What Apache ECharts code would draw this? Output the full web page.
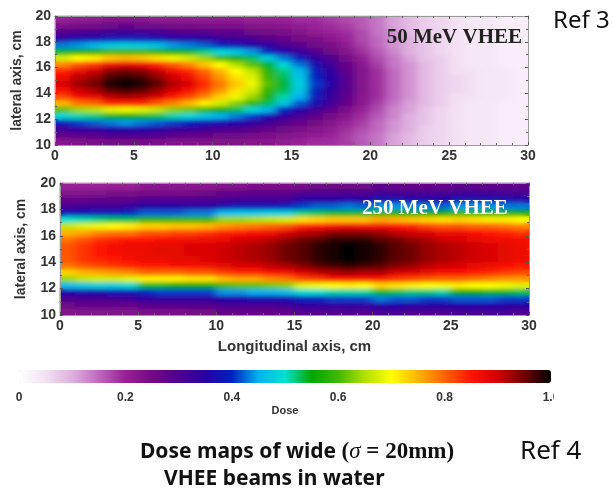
<!DOCTYPE html>
<html>
<head>
<meta charset="utf-8">
<script src="https://cdn.jsdelivr.net/npm/echarts@6.0.0/dist/echarts.min.js"></script>
<style>
  html, body { margin: 0; padding: 0; background: #fff; }
  #wrap { position: relative; width: 613px; height: 492px; }
  .layer { position: absolute; left: 0; top: 0; width: 613px; height: 492px; }
  #soft { filter: url(#smooth); clip-path: path('M55 16H528V145H55Z M60 183H529V315H60Z'); }
</style>
</head>
<body>
<div id="wrap">
  <div id="base" class="layer"></div>
  <div id="soft" class="layer"></div>
  <div id="main" class="layer"></div>
</div>
<svg width="0" height="0" style="position:absolute">
  <filter id="smooth" x="-5%" y="-5%" width="110%" height="110%">
    <feGaussianBlur stdDeviation="4.5 2"/>
  </filter>
</svg>
<script>
// cell centres, cm
var longitudinal = [0.5, 1.5, 2.5, 3.5, 4.5, 5.5, 6.5, 7.5, 8.5, 9.5, 10.5, 11.5, 12.5, 13.5, 14.5,
  15.5, 16.5, 17.5, 18.5, 19.5, 20.5, 21.5, 22.5, 23.5, 24.5, 25.5, 26.5, 27.5, 28.5, 29.5];
var lateral = [10.25, 10.75, 11.25, 11.75, 12.25, 12.75, 13.25, 13.75, 14.25, 14.75,
  15.25, 15.75, 16.25, 16.75, 17.25, 17.75, 18.25, 18.75, 19.25, 19.75];

// 50 MeV: one line per longitudinal cell, values go from lateral 10 to 20
var dose50 = [
  [.22,.27,.32,.39,.49,.61,.75,.82,.86,.89,.87,.84,.78,.67,.54,.43,.35,.29,.24,.20],
  [.23,.28,.34,.41,.51,.64,.79,.86,.90,.93,.91,.88,.81,.70,.56,.44,.37,.30,.25,.21],
  [.24,.28,.34,.42,.52,.65,.80,.88,.92,.95,.93,.90,.83,.71,.57,.45,.37,.31,.25,.21],
  [.25,.30,.36,.43,.54,.68,.84,.91,.96,.99,.97,.94,.87,.74,.60,.47,.39,.32,.26,.22],
  [.25,.30,.36,.44,.55,.69,.84,.92,.97,1.0,.98,.95,.88,.75,.60,.48,.39,.32,.27,.22],
  [.25,.30,.36,.43,.54,.68,.84,.91,.96,.99,.97,.94,.87,.74,.60,.47,.39,.32,.26,.22],
  [.24,.29,.35,.42,.53,.66,.81,.89,.93,.96,.94,.91,.84,.72,.58,.46,.38,.31,.26,.21],
  [.23,.28,.33,.41,.51,.63,.78,.85,.89,.92,.90,.87,.81,.69,.56,.44,.36,.30,.25,.21],
  [.23,.27,.33,.40,.49,.62,.75,.82,.86,.89,.87,.84,.78,.67,.54,.43,.36,.29,.25,.21],
  [.23,.27,.32,.38,.47,.59,.71,.78,.82,.84,.82,.80,.74,.64,.52,.42,.35,.29,.24,.21],
  [.23,.26,.31,.37,.45,.56,.67,.73,.77,.79,.77,.75,.70,.60,.49,.40,.33,.28,.24,.21],
  [.23,.26,.30,.36,.43,.53,.63,.69,.72,.74,.72,.70,.65,.57,.47,.38,.32,.28,.24,.21],
  [.22,.25,.29,.34,.41,.49,.59,.64,.67,.69,.68,.66,.61,.53,.44,.36,.31,.26,.23,.20],
  [.22,.24,.27,.32,.37,.45,.53,.57,.59,.61,.60,.58,.54,.48,.40,.34,.29,.25,.23,.20],
  [.21,.23,.26,.29,.34,.40,.47,.51,.53,.54,.53,.52,.49,.43,.36,.31,.27,.24,.22,.20],
  [.20,.22,.24,.27,.31,.36,.42,.45,.47,.48,.47,.46,.43,.39,.33,.29,.25,.23,.21,.19],
  [.19,.21,.23,.25,.28,.32,.37,.39,.40,.41,.40,.39,.37,.34,.30,.26,.24,.21,.20,.19],
  [.19,.20,.21,.23,.25,.28,.32,.33,.34,.35,.35,.34,.32,.30,.26,.24,.22,.20,.19,.18],
  [.18,.18,.19,.20,.22,.24,.27,.28,.29,.29,.29,.28,.27,.25,.23,.21,.20,.19,.18,.17],
  [.16,.16,.17,.18,.19,.20,.22,.22,.23,.23,.23,.23,.22,.21,.19,.18,.17,.17,.16,.16],
  [.14,.14,.15,.15,.16,.17,.18,.19,.19,.19,.19,.19,.18,.17,.16,.15,.15,.14,.14,.14],
  [.11,.11,.12,.12,.13,.13,.14,.15,.15,.15,.15,.15,.14,.14,.13,.12,.12,.12,.11,.11],
  [.09,.09,.10,.10,.10,.11,.11,.12,.12,.12,.12,.12,.12,.11,.10,.10,.10,.09,.09,.09],
  [.07,.07,.07,.08,.08,.08,.09,.09,.09,.09,.09,.09,.09,.08,.08,.08,.07,.07,.07,.07],
  [.06,.06,.06,.06,.06,.06,.07,.07,.07,.07,.07,.07,.07,.07,.06,.06,.06,.06,.06,.06],
  [.05,.05,.05,.05,.05,.05,.05,.05,.06,.06,.06,.05,.05,.05,.05,.05,.05,.05,.05,.05],
  [.04,.04,.04,.04,.04,.04,.04,.05,.05,.05,.05,.05,.04,.04,.04,.04,.04,.04,.04,.04],
  [.04,.04,.04,.04,.04,.04,.04,.04,.04,.04,.04,.04,.04,.04,.04,.04,.04,.04,.04,.04],
  [.03,.03,.03,.03,.03,.03,.03,.04,.04,.04,.04,.04,.03,.03,.03,.03,.03,.03,.03,.03],
  [.03,.03,.03,.03,.03,.03,.03,.03,.03,.03,.03,.03,.03,.03,.03,.03,.03,.03,.03,.03]
];

// 250 MeV
var dose250 = [
  [.23,.26,.30,.36,.46,.64,.73,.79,.81,.81,.81,.79,.75,.66,.50,.38,.31,.27,.23,.20],
  [.23,.27,.31,.37,.47,.66,.75,.81,.83,.83,.83,.81,.76,.68,.51,.38,.32,.27,.23,.20],
  [.23,.27,.31,.37,.48,.67,.76,.82,.84,.85,.85,.83,.78,.69,.52,.39,.32,.28,.23,.20],
  [.23,.27,.31,.38,.48,.67,.77,.83,.85,.86,.86,.84,.79,.70,.53,.39,.32,.28,.24,.20],
  [.23,.27,.32,.38,.49,.68,.78,.84,.86,.87,.87,.85,.79,.71,.53,.40,.33,.28,.24,.20],
  [.24,.29,.34,.40,.54,.71,.80,.85,.87,.87,.87,.85,.81,.73,.58,.42,.35,.30,.25,.22],
  [.24,.29,.34,.41,.54,.71,.80,.85,.87,.88,.88,.86,.81,.73,.58,.42,.35,.30,.25,.22],
  [.24,.29,.34,.41,.55,.71,.80,.86,.88,.88,.88,.86,.82,.74,.59,.42,.35,.30,.25,.22],
  [.25,.29,.34,.41,.55,.72,.81,.86,.88,.89,.89,.87,.82,.74,.59,.43,.35,.30,.25,.22],
  [.25,.29,.34,.41,.55,.72,.81,.87,.89,.89,.89,.87,.83,.75,.59,.43,.35,.30,.26,.22],
  [.27,.31,.36,.44,.60,.75,.83,.88,.90,.90,.90,.88,.84,.77,.64,.46,.37,.31,.27,.23],
  [.27,.31,.36,.44,.61,.76,.84,.89,.91,.91,.91,.89,.85,.78,.64,.47,.38,.32,.27,.23],
  [.27,.31,.37,.45,.61,.76,.84,.89,.92,.92,.92,.90,.86,.79,.65,.47,.38,.32,.28,.24],
  [.27,.31,.37,.45,.62,.78,.86,.91,.93,.93,.93,.91,.87,.80,.66,.48,.38,.32,.28,.24],
  [.27,.32,.37,.46,.63,.79,.87,.92,.95,.95,.95,.93,.89,.81,.67,.48,.39,.32,.28,.24],
  [.29,.34,.40,.50,.68,.82,.89,.94,.96,.96,.96,.95,.91,.84,.72,.52,.41,.35,.30,.25],
  [.29,.34,.40,.50,.69,.83,.91,.96,.98,.98,.98,.96,.92,.85,.73,.53,.42,.35,.30,.26],
  [.29,.34,.41,.51,.70,.85,.92,.97,.99,.99,.99,.98,.94,.86,.74,.54,.42,.35,.30,.26],
  [.30,.34,.41,.51,.71,.85,.93,.98,1.0,1.0,1.0,.98,.94,.87,.74,.54,.43,.36,.30,.26],
  [.29,.34,.41,.51,.70,.85,.92,.97,.99,.99,.99,.98,.94,.86,.74,.54,.42,.35,.30,.26],
  [.31,.36,.43,.54,.73,.85,.92,.96,.98,.98,.98,.96,.93,.86,.76,.58,.44,.37,.32,.28],
  [.31,.36,.42,.53,.72,.83,.90,.94,.96,.96,.96,.95,.91,.85,.75,.57,.44,.37,.31,.27],
  [.30,.35,.42,.52,.71,.82,.89,.93,.95,.95,.95,.93,.90,.84,.74,.56,.43,.36,.31,.27],
  [.30,.35,.41,.52,.70,.81,.88,.91,.93,.93,.93,.92,.89,.82,.73,.56,.43,.36,.31,.27],
  [.30,.35,.41,.51,.69,.80,.86,.90,.92,.92,.92,.90,.87,.81,.72,.55,.42,.36,.31,.27],
  [.31,.36,.42,.55,.71,.80,.86,.89,.91,.91,.91,.89,.87,.81,.73,.59,.44,.37,.32,.28],
  [.31,.36,.42,.55,.70,.79,.85,.88,.90,.90,.90,.88,.86,.80,.72,.58,.44,.37,.32,.28],
  [.31,.36,.42,.54,.70,.78,.84,.87,.89,.89,.89,.87,.85,.80,.71,.57,.44,.37,.32,.28],
  [.31,.35,.41,.54,.69,.77,.83,.86,.88,.88,.88,.87,.84,.79,.71,.57,.43,.37,.31,.28],
  [.30,.35,.41,.53,.68,.77,.82,.85,.87,.87,.87,.86,.83,.78,.70,.56,.43,.36,.31,.28]
];

// colour scale, 0 to 1 in steps of 0.05
var doseColors = ['#ffffff', '#f3e1f3', '#dfb0df', '#bf68bf', '#972096', '#740a84', '#500090',
  '#2800a4', '#0020c0', '#00b4f0', '#00e0d0', '#00a800', '#40b800', '#b0e000', '#ffff00',
  '#ffb400', '#ff6400', '#ff1400', '#d20000', '#700000', '#000000'];

var plotGrids = [
  {left: 55, top: 16, width: 473, height: 129},
  {left: 60, top: 183, width: 469, height: 132}
];

function toCells(cols) {
  var out = [];
  for (var i = 0; i < cols.length; i++) {
    for (var j = 0; j < cols[i].length; j++) {
      out.push([i, j, cols[i][j]]);
    }
  }
  return out;
}

function catAxis(grid, data) {
  return {type: 'category', gridIndex: grid, data: data.map(String), show: false};
}

// the two dose maps only (drawn twice: sharp underneath, softened on top)
function heatOption() {
  return {
    animation: false,
    grid: plotGrids,
    xAxis: [catAxis(0, longitudinal), catAxis(1, longitudinal)],
    yAxis: [catAxis(0, lateral), catAxis(1, lateral)],
    visualMap: {type: 'continuous', show: false, min: 0, max: 1, inRange: {color: doseColors}},
    series: [
      {type: 'heatmap', xAxisIndex: 0, yAxisIndex: 0, data: toCells(dose50), progressive: 0, emphasis: {disabled: true}},
      {type: 'heatmap', xAxisIndex: 1, yAxisIndex: 1, data: toCells(dose250), progressive: 0, emphasis: {disabled: true}}
    ]
  };
}

echarts.init(document.getElementById('base')).setOption(heatOption());
echarts.init(document.getElementById('soft')).setOption(heatOption());

var fontFamily = '"Liberation Sans", Arial, sans-serif';
var tickFont = {fontFamily: fontFamily, fontWeight: 'bold', fontSize: 14, color: '#333'};

function valAxis(grid, pos, min, max, step, minor, showLabel, extra) {
  var a = {
    type: 'value', gridIndex: grid, position: pos, min: min, max: max, interval: step,
    axisLine: {show: true, onZero: false, lineStyle: {color: '#999', width: 1}},
    axisTick: {show: true, inside: true, length: 3, lineStyle: {color: '#555'}},
    minorTick: {show: true, splitNumber: minor, length: 2, lineStyle: {color: '#666'}},
    splitLine: {show: false},
    axisLabel: showLabel ? Object.assign({show: true, margin: 4}, tickFont) : {show: false}
  };
  return Object.assign(a, extra || {});
}

var yName = {name: 'lateral axis, cm', nameLocation: 'middle', nameGap: 29,
  nameTextStyle: {fontFamily: fontFamily, fontWeight: 'bold', fontSize: 14, color: '#333'}};

var chart = echarts.init(document.getElementById('main'));

chart.setOption({
  animation: false,
  grid: plotGrids.concat([{left: 19, top: 370, width: 532, height: 13}]),
  xAxis: [
    valAxis(0, 'bottom', 0, 30, 5, 5, true),
    valAxis(0, 'top', 0, 30, 5, 5, false),
    valAxis(1, 'bottom', 0, 30, 5, 5, true, {
      name: 'Longitudinal axis, cm', nameLocation: 'middle', nameGap: 24,
      nameTextStyle: {fontFamily: fontFamily, fontWeight: 'bold', fontSize: 15, color: '#333'}
    }),
    valAxis(1, 'top', 0, 30, 5, 5, false),
    {
      type: 'value', gridIndex: 2, min: 0, max: 1, interval: 0.2,
      axisLine: {show: false}, axisTick: {show: false}, splitLine: {show: false},
      axisLabel: {margin: 9, fontSize: 12, fontFamily: fontFamily, fontWeight: 'bold', color: '#333',
        formatter: function (v) { return v === 0 ? '0' : v.toFixed(1); }},
      name: 'Dose', nameLocation: 'middle', nameGap: 22,
      nameTextStyle: {fontFamily: fontFamily, fontWeight: 'bold', fontSize: 11, color: '#333'}
    }
  ],
  yAxis: [
    valAxis(0, 'left', 10, 20, 2, 2, true, yName),
    valAxis(0, 'right', 10, 20, 2, 2, false),
    valAxis(1, 'left', 10, 20, 2, 2, true, Object.assign({}, yName, {nameGap: 32})),
    valAxis(1, 'right', 10, 20, 2, 2, false),
    {type: 'value', gridIndex: 2, min: 0, max: 1, show: false}
  ],
  visualMap: {
    type: 'continuous', min: 0, max: 1, orient: 'horizontal',
    left: 19, top: 370, itemWidth: 13, itemHeight: 532, padding: 0,
    calculable: false, hoverLink: false,
    inRange: {color: doseColors}
  },
  series: [],
  graphic: [
    {type: 'text', z: 100, style: {text: '50 MeV VHEE', x: 522, y: 38, align: 'right', verticalAlign: 'middle',
      font: 'bold 21px "Liberation Serif", "DejaVu Serif", serif', fill: '#222'}},
    {type: 'text', z: 100, style: {text: '250 MeV VHEE', x: 362, y: 209, align: 'left', verticalAlign: 'middle',
      font: 'bold 21px "Liberation Serif", "DejaVu Serif", serif', fill: '#ffffff'}},
    {type: 'text', z: 100, style: {text: 'Ref 3', x: 553, y: 21, align: 'left', verticalAlign: 'middle',
      font: '24px "Noto Sans", sans-serif', fill: '#111'}},
    {type: 'text', z: 100, style: {text: 'Ref 4', x: 520, y: 452, align: 'left', verticalAlign: 'middle',
      font: '26px "Noto Sans", sans-serif', fill: '#111'}},
    {type: 'text', z: 100, style: {
      x: 140, y: 452, align: 'left', verticalAlign: 'middle',
      text: '{a|Dose maps of wide }{b|(}{s|σ}{b| = 20mm)}',
      rich: {
        a: {fontFamily: '"Noto Sans", sans-serif', fontSize: 21, fontWeight: 'bold', fill: '#111'},
        b: {fontFamily: '"Liberation Serif", serif', fontSize: 23, fontWeight: 'bold', fill: '#111'},
        s: {fontFamily: '"Liberation Serif", serif', fontSize: 23, fontStyle: 'italic', fill: '#111'}
      }
    }},
    {type: 'text', z: 100, style: {text: 'VHEE beams in water', x: 164, y: 479, align: 'left', verticalAlign: 'middle',
      font: 'bold 21px "Noto Sans", sans-serif', fill: '#111'}},
    // the picture is cut just after "1."
    {type: 'rect', z: 100, shape: {x: 554, y: 388, width: 59, height: 22}, style: {fill: '#fff'}}
  ]
});
</script>
</body>
</html>
